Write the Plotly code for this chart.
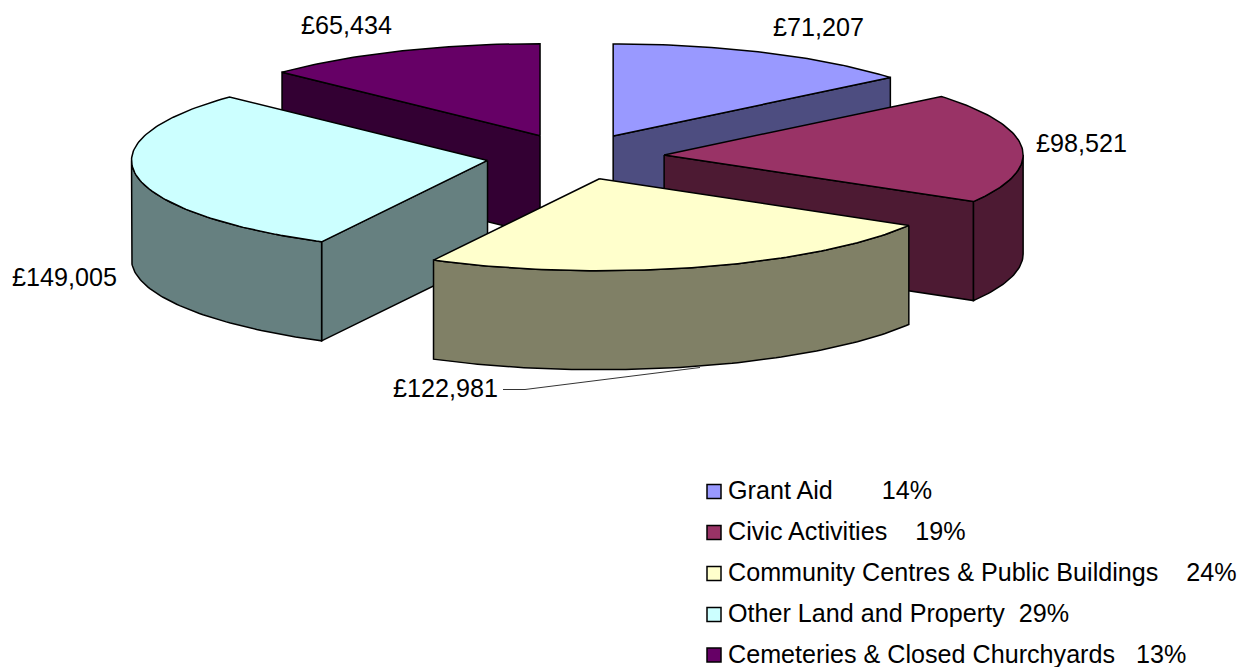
import numpy as np
import plotly.graph_objects as go

categories = ["Grant Aid", "Civic Activities", "Community Centres & Public Buildings",
              "Other Land and Property", "Cemeteries & Closed Churchyards"]
values = [71207, 98521, 122981, 149005, 65434]
value_labels = ["£71,207", "£98,521", "£122,981", "£149,005", "£65,434"]
legend_labels = ["Grant Aid\u00a0\u00a0\u00a0\u00a0\u00a0\u00a0\u00a014%",
                 "Civic Activities\u00a0\u00a0\u00a0\u00a019%",
                 "Community Centres & Public Buildings\u00a0\u00a0\u00a0\u00a024%",
                 "Other Land and Property\u00a0\u00a029%",
                 "Cemeteries & Closed Churchyards\u00a0\u00a0\u00a013%"]
top_colors = ["#9999FF", "#993366", "#FFFFCC", "#CCFFFF", "#660066"]
side_colors = ["#4D4D80", "#4D1A33", "#808066", "#668080", "#330033"]

# pie geometry (page pixels); the left half is slightly narrower, as in the perspective of the original
CX, CY, RX_R, RX_L, RY, DEPTH, EXPLODE = 575, 156.7, 359, 356, 92, 99, 0.249
FONT = "Liberation Sans, Arial, sans-serif"
FS = 25.15

total = sum(values)
edges = np.concatenate([[0], np.cumsum(values)]) / total * 2 * np.pi
slices = [(edges[i], edges[i + 1]) for i in range(len(values))]


def sx(a):
    s = np.sin(a)
    return s * np.where(s < 0, RX_L, RX_R)


def pt(apex, a, r=1.0):
    return apex[0] + r * sx(a), apex[1] - r * RY * np.cos(a)


def apex_of(a0, a1):
    return pt((CX, CY), (a0 + a1) / 2, EXPLODE)


def arc(apex, a0, a1):
    t = np.linspace(a0, a1, max(int((a1 - a0) * 60), 2))
    return apex[0] + sx(t), apex[1] - RY * np.cos(t)


fig = go.Figure()


def poly(xs, ys, color):
    fig.add_trace(go.Scatter(x=list(xs), y=list(ys), mode="lines", fill="toself",
                             fillcolor=color, line=dict(color="black", width=1.5),
                             hoverinfo="skip", showlegend=False))


def wall(apex, a, color):
    px, py = pt(apex, a)
    poly([apex[0], px, px, apex[0], apex[0]],
         [apex[1], py, py + DEPTH, apex[1] + DEPTH, apex[1]], color)


order = [0, 4, 1, 3, 2]
for i in order:
    a0, a1 = slices[i]
    apex = apex_of(a0, a1)
    # radial wall at the start of the slice faces the viewer if cos(a0-90deg) < 0
    if np.cos(a0 - np.pi / 2) < -1e-6:
        wall(apex, a0, side_colors[i])
    if np.cos(a1 + np.pi / 2) < -1e-6:
        wall(apex, a1, side_colors[i])
    # curved outer wall: the front half of the ellipse only
    lo, hi = max(a0, np.pi / 2), min(a1, 3 * np.pi / 2)
    if hi > lo:
        xs, ys = arc(apex, lo, hi)
        poly(np.r_[xs, xs[::-1], xs[0]], np.r_[ys, ys[::-1] + DEPTH, ys[0]], side_colors[i])
    # top face
    xs, ys = arc(apex, a0, a1)
    poly(np.r_[apex[0], xs, apex[0]], np.r_[apex[1], ys, apex[1]], top_colors[i])

# leader line for the community slice label
fig.add_trace(go.Scatter(x=[503, 525, 700], y=[389.5, 389.5, 367.5], mode="lines",
                         line=dict(color="black", width=0.8), hoverinfo="skip", showlegend=False))

# value labels
label_x = [818.5, 1081.5, 445.5, 64.5, 346.5]
label_y = [30, 146, 391, 280, 28]
fig.add_trace(go.Scatter(x=label_x, y=label_y, mode="text", text=value_labels,
                         textposition="middle center",
                         textfont=dict(family=FONT, size=FS, color="black"),
                         hoverinfo="skip", showlegend=False))

# legend
legend_y = [491.5, 532.5, 573.5, 614.5, 655]
fig.add_trace(go.Scatter(x=[714] * 5, y=legend_y, mode="markers",
                         marker=dict(symbol="square", size=14, color=top_colors,
                                     line=dict(color="black", width=1.5)),
                         hoverinfo="skip", showlegend=False))
fig.add_trace(go.Scatter(x=[728] * 5, y=[y + 1.5 for y in legend_y], mode="text", text=legend_labels,
                         textposition="middle right",
                         textfont=dict(family=FONT, size=FS, color="black"),
                         hoverinfo="skip", showlegend=False))

fig.update_layout(
    width=1240, height=667, margin=dict(l=0, r=0, t=0, b=0),
    paper_bgcolor="white", plot_bgcolor="white", showlegend=False,
    xaxis=dict(range=[0, 1240], visible=False, fixedrange=True),
    yaxis=dict(range=[667, 0], visible=False, fixedrange=True),
)
fig.write_html("out.html", config={"displayModeBar": False},
               post_script="document.body.style.margin='0';document.documentElement.style.overflow='hidden';")
